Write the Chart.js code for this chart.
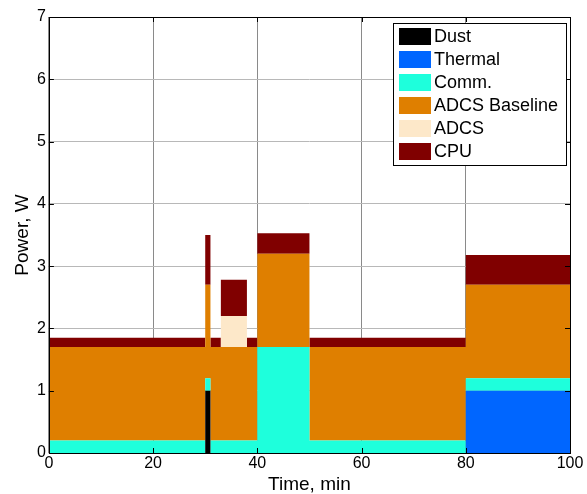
<!DOCTYPE html>
<html>
<head>
<meta charset="utf-8">
<script src="https://cdn.jsdelivr.net/npm/chart.js@4"></script>
<style>
  html, body { margin: 0; padding: 0; background: #fff; }
  #wrap { width: 587px; height: 494px; }
</style>
</head>
<body>
<div id="wrap"><canvas id="powerChart" width="587" height="494"></canvas></div>
<script>
// step break points (min); each value holds until the next break
const timeBreaks   = [0,    30,  31,   33,   38,   40,   50,   80,   100];
const dust         = [0,    1,   0,    0,    0,    0,    0,    0,    0];
const thermal      = [0,    0,   0,    0,    0,    0,    0,    1,    1];
const comm         = [0.2,  0.2, 0.2,  0.2,  0.2,  1.7,  0.2,  0.2,  0.2];
const adcsBaseline = [1.5,  1.5, 1.5,  1.5,  1.5,  1.5,  1.5,  1.5,  1.5];
const adcs         = [0,    0,   0,    0.5,  0,    0,    0,    0,    0];
const cpu          = [0.15, 0.8, 0.15, 0.58, 0.15, 0.33, 0.15, 0.48, 0.48];

const seriesNames = ['Dust', 'Thermal', 'Comm.', 'ADCS Baseline', 'ADCS', 'CPU'];
const seriesValues = [dust, thermal, comm, adcsBaseline, adcs, cpu];
const seriesColors = ['#000000', '#0066ff', '#1effdc', '#df7f00', '#fde8c9', '#800000'];

const xTicks = [0, 20, 40, 60, 80, 100];
const yTicks = [0, 1, 2, 3, 4, 5, 6, 7];

const FONT = 'Liberation Sans, Arial, sans-serif';

const datasets = seriesNames.map((name, i) => ({
    label: name,
    data: timeBreaks.map((t, j) => ({ x: t, y: seriesValues[i][j] })),
    stepped: 'before',
    fill: i === 0 ? 'origin' : '-1',
    backgroundColor: seriesColors[i],
    borderColor: seriesColors[i],
    borderWidth: 0,
    pointRadius: 0,
    tension: 0
}));

// box, inner ticks and legend drawn the MATLAB way
const matlabFrame = {
    id: 'matlabFrame',
    afterDraw(chart) {
        const ctx = chart.ctx;
        const a = chart.chartArea;
        const xs = chart.scales.x, ys = chart.scales.y;
        ctx.save();
        ctx.strokeStyle = '#000';
        ctx.lineWidth = 1;
        ctx.beginPath();
        xTicks.forEach(v => {
            const px = Math.round(xs.getPixelForValue(v)) + 0.5;
            ctx.moveTo(px, a.bottom); ctx.lineTo(px, a.bottom - 5);
            ctx.moveTo(px, a.top); ctx.lineTo(px, a.top + 5);
        });
        yTicks.forEach(v => {
            const py = Math.round(ys.getPixelForValue(v)) + 0.5;
            ctx.moveTo(a.left, py); ctx.lineTo(a.left + 5, py);
            ctx.moveTo(a.right, py); ctx.lineTo(a.right - 5, py);
        });
        ctx.stroke();
        ctx.strokeRect(Math.round(a.left) + 0.5, Math.round(a.top) + 0.5,
                       Math.round(a.right - a.left), Math.round(a.bottom - a.top));

        // legend box
        const lx = 393, ly = 23, lw = 173, lh = 142;
        ctx.fillStyle = '#fff';
        ctx.fillRect(lx, ly, lw, lh);
        ctx.strokeRect(lx + 0.5, ly + 0.5, lw, lh);
        ctx.font = '18px ' + FONT;
        ctx.textBaseline = 'middle';
        seriesNames.forEach((name, i) => {
            const ry = ly + 5 + i * 23;
            ctx.fillStyle = seriesColors[i];
            ctx.fillRect(lx + 6, ry, 32, 17);
            ctx.fillStyle = '#000';
            ctx.fillText(name, lx + 41, ry + 9);
        });
        ctx.restore();
    }
};

new Chart(document.getElementById('powerChart').getContext('2d'), {
    type: 'line',
    data: { datasets },
    options: {
        responsive: false,
        animation: false,
        layout: { padding: { left: 13, right: 17, top: 17, bottom: 0 } },
        plugins: {
            legend: { display: false },
            tooltip: { enabled: false },
            filler: { propagate: false }
        },
        scales: {
            x: {
                type: 'linear',
                min: 0, max: 100,
                afterBuildTicks: s => { s.ticks = xTicks.map(v => ({ value: v })); },
                grid: { color: '#8a8a8a', drawTicks: false },
                border: { display: false },
                ticks: { color: '#000', font: { family: FONT, size: 16, lineHeight: 1 }, padding: 3, maxRotation: 0 },
                title: { display: true, text: 'Time, min', color: '#000', font: { family: FONT, size: 19, lineHeight: 1 }, padding: { top: 0, bottom: 0 } }
            },
            y: {
                stacked: true,
                min: 0, max: 7,
                afterBuildTicks: s => { s.ticks = yTicks.map(v => ({ value: v })); },
                grid: { color: '#b8b8b8', drawTicks: false },
                border: { display: false },
                ticks: { color: '#000', font: { family: FONT, size: 16, lineHeight: 1 }, padding: 3 },
                title: { display: true, text: 'Power, W', color: '#000', font: { family: FONT, size: 19, lineHeight: 1 }, padding: { top: 0, bottom: 2 } }
            }
        }
    },
    plugins: [matlabFrame]
});
</script>
</body>
</html>
